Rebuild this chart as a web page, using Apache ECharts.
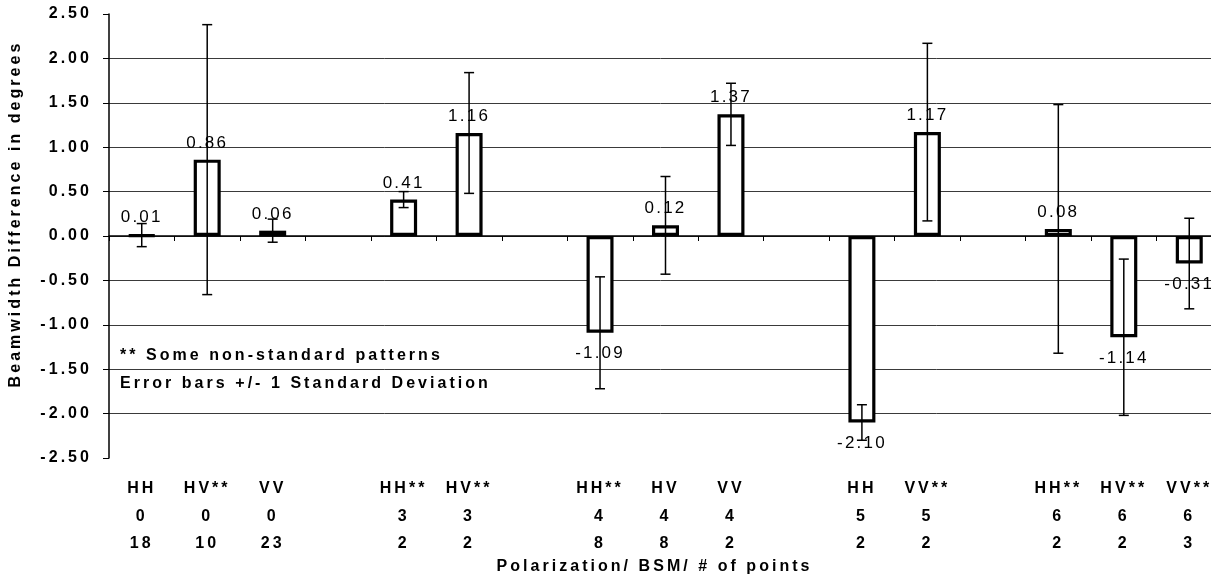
<!DOCTYPE html>
<html>
<head>
<meta charset="utf-8">
<script src="https://cdn.jsdelivr.net/npm/echarts@6/dist/echarts.min.js"></script>
<style>
html,body{margin:0;padding:0;background:#fff;}
#chart{width:1211px;height:580px;}
</style>
</head>
<body>
<div id="chart"></div>
<script>
// ---- data ----
const polarization = ['HH','HV**','VV','', 'HH**','HV**','', 'HH**','HV','VV','', 'HH','VV**','', 'HH**','HV**','VV**'];
const bsm          = ['0','0','0','', '3','3','', '4','4','4','', '5','5','', '6','6','6'];
const nPoints      = ['18','10','23','', '2','2','', '8','8','2','', '2','2','', '2','2','3'];
const meanDiff     = [0.01, 0.86, 0.06, null, 0.41, 1.16, null, -1.09, 0.12, 1.37, null, -2.10, 1.17, null, 0.08, -1.14, -0.31];
const stdDev       = [0.13, 1.52, 0.13, null, 0.09, 0.68, null, 0.63, 0.55, 0.35, null, 0.20, 1.00, null, 1.40, 0.88, 0.51];
const yMin = -2.5, yMax = 2.5, yStep = 0.5;
const notes = ['** Some non-standard patterns', 'Error bars +/- 1 Standard Deviation'];

// wide letter spacing like the printed original
(function(){
  const P = CanvasRenderingContext2D.prototype;
  function ls(ctx){
    const f = ctx.font || '';
    const m = f.match(/(\d+(?:\.\d+)?)px/);
    const size = m ? parseFloat(m[1]) : 12;
    const bold = /bold|\b[6-9]00\b/.test(f);
    try { ctx.letterSpacing = ((bold ? 0.19 : 0.13) * size).toFixed(2) + 'px'; } catch(e) {}
  }
  const ft = P.fillText, st = P.strokeText, mt = P.measureText;
  P.fillText = function(){ ls(this); return ft.apply(this, arguments); };
  P.strokeText = function(){ ls(this); return st.apply(this, arguments); };
  P.measureText = function(){ ls(this); return mt.apply(this, arguments); };
})();

const categories = polarization.map((p, i) => p === '' ? '' : p + '\n' + bsm[i] + '\n' + nPoints[i]);
const FONT = '"Liberation Sans", Arial, sans-serif';

const nTicks = Math.round((yMax - yMin) / yStep) + 1;
const gridColors = [];
for (let i = 0; i < nTicks; i++) gridColors.push(i === 0 || i === nTicks - 1 ? 'rgba(0,0,0,0)' : '#3a3a3a');

const barData = meanDiff.map(v => v == null ? null : {
  value: v,
  label: v < 0 ? { position: 'bottom', distance: 11 } : { position: 'top', distance: 7 }
});
const errData = [];
meanDiff.forEach((v, i) => { if (v != null) errData.push([i, v - stdDev[i], v + stdDev[i]]); });

const chart = echarts.init(document.getElementById('chart'), null, { renderer: 'canvas' });
chart.setOption({
  backgroundColor: '#fff',
  animation: false,
  textStyle: { fontFamily: FONT, color: '#000' },
  grid: { left: 109, right: -11, top: 14, bottom: 122, containLabel: false, outerBoundsMode: 'none' },
  xAxis: [
    {
      type: 'category',
      data: categories,
      position: 'bottom',
      axisLine: { show: false, onZero: false },
      axisTick: { show: false },
      splitLine: { show: false },
      axisLabel: {
        interval: 0, margin: 17, color: '#000',
        fontFamily: FONT, fontWeight: 'bold', fontSize: 16, lineHeight: 27.5
      },
      name: 'Polarization/ BSM/ # of points',
      nameLocation: 'middle',
      nameGap: 99,
      nameMoveOverlap: false,
      nameTextStyle: { fontFamily: FONT, fontWeight: 'bold', fontSize: 16, color: '#000', padding: [0, 22, 0, 0] }
    },
    {
      type: 'category',
      data: categories,
      position: 'top',
      axisLine: { show: true, onZero: true, lineStyle: { color: '#000', width: 1.5 } },
      axisTick: { show: true, inside: true, length: 5, lineStyle: { color: '#000', width: 1 } },
      axisLabel: { show: false },
      splitLine: { show: false }
    }
  ],
  yAxis: {
    type: 'value',
    min: yMin, max: yMax, interval: yStep,
    axisLine: { show: true, onZero: false, lineStyle: { color: '#000', width: 1.5 } },
    axisTick: { show: true, length: 6, lineStyle: { color: '#000', width: 1 } },
    axisLabel: {
      margin: 17, color: '#000', fontFamily: FONT, fontWeight: 'bold', fontSize: 16,
      formatter: v => v.toFixed(2)
    },
    splitLine: { show: true, lineStyle: { color: gridColors, width: 1 } },
    name: 'Beamwidth Difference in degrees',
    nameLocation: 'middle',
    nameGap: 84,
    nameMoveOverlap: false,
    nameTextStyle: { fontFamily: FONT, fontWeight: 'bold', fontSize: 16, color: '#000', padding: [0, 0, 0, 44] }
  },
  graphic: [
    { type: 'text', left: 120, top: 346, style: { text: notes[0], font: 'bold 16px ' + FONT, fill: '#000' } },
    { type: 'text', left: 120, top: 374, style: { text: notes[1], font: 'bold 16px ' + FONT, fill: '#000' } }
  ],
  series: [
    {
      type: 'bar',
      xAxisIndex: 0,
      data: barData,
      barWidth: 27,
      itemStyle: { color: '#fff', borderColor: '#000', borderWidth: 3.2 },
      label: {
        show: true, color: '#000', fontFamily: FONT, fontSize: 17,
        formatter: p => p.value.toFixed(2)
      },
      z: 2
    },
    {
      type: 'custom',
      xAxisIndex: 0,
      data: errData,
      z: 5,
      renderItem: function (params, api) {
        const x = api.value(0);
        const lo = api.coord([x, api.value(1)]);
        const hi = api.coord([x, api.value(2)]);
        const w = 5;
        const s = { stroke: '#000', lineWidth: 1.5 };
        return {
          type: 'group',
          children: [
            { type: 'line', shape: { x1: lo[0], y1: lo[1], x2: hi[0], y2: hi[1] }, style: s },
            { type: 'line', shape: { x1: lo[0] - w, y1: lo[1], x2: lo[0] + w, y2: lo[1] }, style: s },
            { type: 'line', shape: { x1: hi[0] - w, y1: hi[1], x2: hi[0] + w, y2: hi[1] }, style: s }
          ]
        };
      }
    }
  ]
});
</script>
</body>
</html>
